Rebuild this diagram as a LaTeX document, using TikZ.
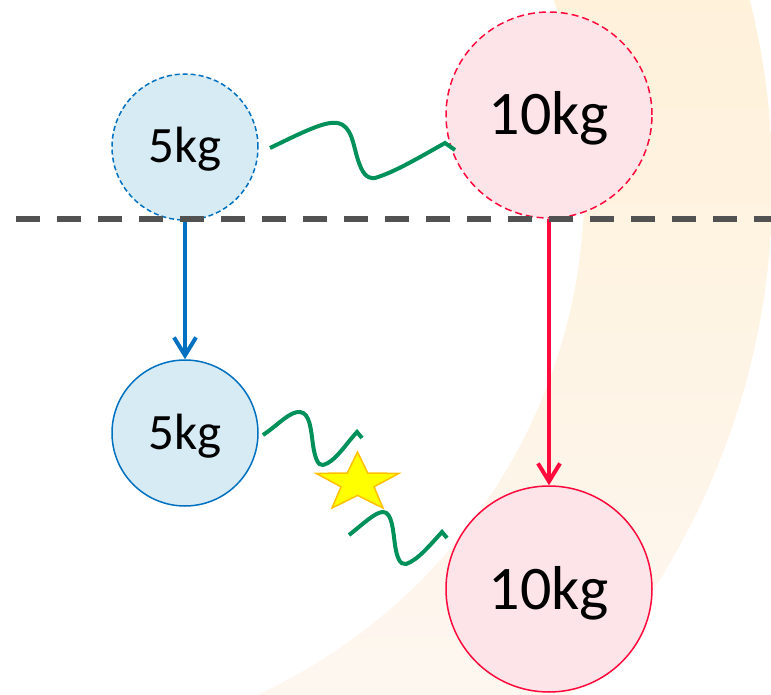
\documentclass[tikz,border=0pt]{standalone}
\usepackage{fontspec}
\setmainfont{Carlito}
\usetikzlibrary{arrows.meta}
\definecolor{ringtop}{HTML}{FFF0D6}
\definecolor{ringmid}{HTML}{FFEBC3}
\definecolor{ringbot}{HTML}{FEF7F0}
\definecolor{mblue}{HTML}{0070C0}
\definecolor{lblue}{HTML}{D6EBF4}
\definecolor{mred}{HTML}{FF0A3C}
\definecolor{lpink}{HTML}{FDE4E9}
\definecolor{wgreen}{HTML}{00915A}
\definecolor{dgray}{HTML}{525252}
\definecolor{staryel}{HTML}{FFFF00}
\definecolor{starrim}{HTML}{FFC000}
\begin{document}
\begin{tikzpicture}[x=1pt,y=-1pt,
  smallball/.style={circle, minimum size=146pt, inner sep=0pt, fill=lblue, draw=mblue, line width=1.5pt,
    font=\fontsize{51}{60}\selectfont, text height=32pt, text depth=0pt},
  bigball/.style={circle, minimum size=206pt, inner sep=0pt, fill=lpink, draw=mred, line width=1.5pt,
    font=\fontsize{62}{72}\selectfont, text height=40pt, text depth=0pt},
  ghostblue/.style={dash pattern=on 5pt off 3pt},
  ghostred/.style={dash pattern=on 7pt off 4pt},
  fallarrow/.style={line width=4pt, -{Straight Barb[length=18pt,width=22pt]}},
  wave/.style={wgreen, line width=4pt},
  starshape/.style={fill=staryel, draw=starrim, line width=1.5pt, line join=miter},
  groundline/.style={dgray, line width=6pt, dash pattern=on 24pt off 17pt}
]
\useasboundingbox (0,0) rectangle (771,695);
% background ring
\begin{scope}[even odd rule]
  \clip (0,0) rectangle (771,695);
  \clip (22.5,184) circle[radius=750] (22.5,184) circle[radius=562];
  \shade[top color=ringtop, middle color=ringmid, bottom color=ringbot] (0,-130) rectangle (771,695);
\end{scope}
% balls
\node[smallball, ghostblue] (m1a) at (185,147) {5kg};
\node[bigball, ghostred] (m2a) at (549,115) {10kg};
\node[smallball] (m1b) at (185,433) {5kg};
\node[bigball] (m2b) at (549,589) {10kg};
% falling arrows
\draw[fallarrow, mblue] (m1a.south) -- (m1b.north);
\draw[fallarrow, mred] (m2a.south) -- (m2b.north);
% waves
\draw[wave] (270,148) .. controls (303,132) and (325,121) .. (337,123)
  .. controls (352,125) and (353,145) .. (358,160)
  .. controls (362,172) and (366,179) .. (375,178)
  .. controls (395,172) and (420,157) .. (445,143) -- (455,150);
\draw[wave] (263,435) .. controls (278,425) and (290,411) .. (300,412)
  .. controls (310,413) and (311,430) .. (313,445)
  .. controls (315,458) and (318,466) .. (323,465)
  .. controls (335,462) and (345,445) .. (357,432) -- (362,438);
\draw[wave] (349,535) .. controls (362,525) and (375,512) .. (383,512)
  .. controls (392,512) and (393,530) .. (395,545)
  .. controls (397,558) and (400,565) .. (406,564)
  .. controls (418,560) and (430,545) .. (442,532) -- (447,538);
% star
\draw[starshape] (357.5,452) -- (367.7,473) -- (398.8,473.4) -- (374,486.8) -- (383,508)
  -- (357.5,495.4) -- (332,508) -- (341,486.8) -- (316.2,473.4) -- (347.3,473) -- cycle;
% ground line
\draw[groundline] (16,219) -- (771,219);
\end{tikzpicture}
\end{document}
